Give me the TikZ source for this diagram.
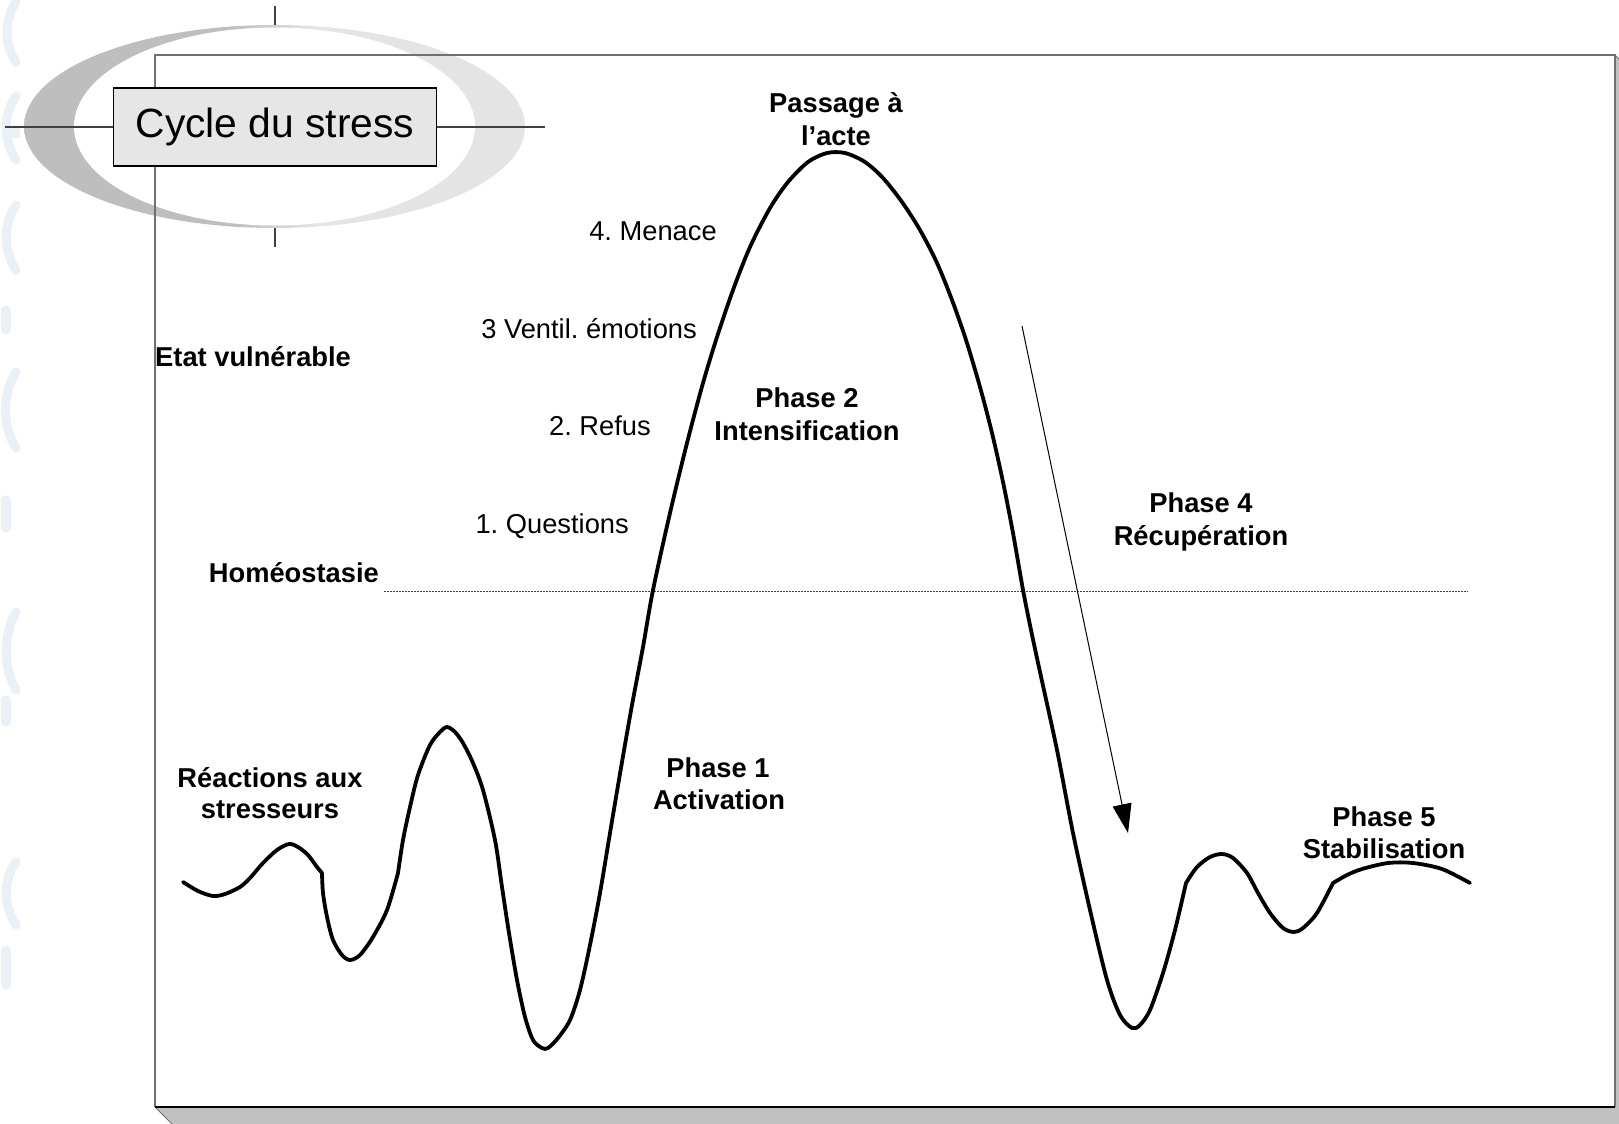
\documentclass[tikz,border=0pt]{standalone}
\usepackage{fontspec}
\setmainfont{Liberation Sans}
\usetikzlibrary{arrows.meta}
\frenchspacing

\definecolor{shadowgray}{HTML}{C0C0C0}
\definecolor{ringdark}{HTML}{BEBEBE}
\definecolor{ringlight}{HTML}{E4E4E4}
\definecolor{titlefill}{HTML}{E6E6E6}
\definecolor{framegray}{HTML}{707070}
\definecolor{crossgray}{HTML}{404040}
\definecolor{paleblue}{HTML}{EAF1F6}

% crescent ring: darker on the left half, lighter on the right half
\pgfdeclarehorizontalshading{ringshade}{100bp}{color(0bp)=(ringdark); color(46bp)=(ringdark); color(54bp)=(ringlight); color(100bp)=(ringlight)}

\begin{document}
\begin{tikzpicture}[x=1bp, y=-1bp,
  lab/.style={font=\fontsize{27.3bp}{33bp}\selectfont, inner sep=0pt, anchor=base},
  boldlab/.style={lab, font=\fontsize{27.3bp}{33bp}\selectfont\bfseries},
  curve/.style={line width=3.8bp, line join=round, line cap=round},
  cross/.style={crossgray, line width=1.4bp},
  faint/.style={paleblue, line width=9bp, line cap=round}]

\useasboundingbox (0,0) rectangle (1619,1123);
\fill[white] (0,0) rectangle (1619,1123);

% faint background marks along the left edge
\draw[faint] (16,2) .. controls (4,20) and (4,45) .. (16,62);
\draw[faint] (16,96) .. controls (3,115) and (3,140) .. (16,160);
\fill[paleblue] (8,128) rectangle (20,138);
\draw[faint] (16,205) .. controls (3,225) and (3,250) .. (16,270);
\draw[faint] (6,310) -- (6,330);
\draw[faint] (16,372) .. controls (2,395) and (2,425) .. (16,448);
\draw[faint] (6,500) -- (6,528);
\draw[faint] (16,612) .. controls (3,635) and (3,668) .. (16,690);
\draw[faint] (6,700) -- (6,722);
\draw[faint] (16,862) .. controls (3,880) and (3,905) .. (16,925);
\draw[faint] (6,950) -- (6,985);

% raised frame: shadow on the right and at the bottom
\fill[shadowgray] (155,1107) -- (172,1124) -- (1636,1124) -- (1636,72) -- (1615,55) -- (1615,1107) -- cycle;
\draw[framegray, line width=1bp] (155,1107) -- (172,1124);
\draw[framegray, line width=1bp] (1615,55) -- (1632,72);

% title emblem: vertical tick marks, ring
\draw[cross] (275,6) -- (275,247);
\shade[shading=ringshade] (274.5,126.5) ellipse [x radius=250.5, y radius=101.5];
\fill[white] (274.5,126.5) ellipse [x radius=200.5, y radius=99];

% frame outline
\draw[framegray, line width=1.5bp] (155,1107) -- (155,55) -- (1615,55) -- (1615,1107);
\draw[black, line width=1.5bp] (155,1107) -- (1615,1107);

% horizontal tick line and title box
\draw[cross] (5,127) -- (545,127);
\node[draw=black, line width=1.2bp, fill=titlefill, minimum width=323bp, minimum height=78bp,
      inner sep=0pt, font=\fontsize{40.8bp}{48bp}\selectfont] (title) at (275,127) {Cycle du stress};

% homeostasis level
\coordinate (homL) at (384,591);
\coordinate (homR) at (1468,591);
\draw[crossgray, line width=0.8bp, dash pattern=on 1.5bp off 1.5bp] (homL) -- (homR);

% stress curve
\draw[curve]
  plot[smooth, tension=0.5] coordinates {(183,882) (198,891) (213,896) (225,894) (240,887) (250,878) (263,863) (277,850) (289,844) (298,847) (308,855) (317,867) (322,873)}
  -- plot[smooth, tension=0.5] coordinates {(322,873) (323,893) (327,917) (333,940) (342,955) (350,960) (360,955) (373,937) (387,910) (398,873)}
  -- plot[smooth, tension=0.5] coordinates {(398,873) (403,840) (410,807) (418,775) (430,745) (440,732) (447,727) (455,732) (463,743) (473,763) (483,790) (495,840) (502,887) (509,933) (517,980) (525,1017) (533,1040) (542,1048) (548,1048) (558,1038) (570,1020) (580,990) (590,945) (600,893) (611,827) (622,762) (632,705) (643,647) (653,590) (670,513) (687,443) (703,383) (717,337) (733,290) (750,247) (770,208) (788,182) (808,162) (827,153) (845,153) (865,162) (883,178) (902,202) (920,230) (937,263) (952,300) (966,340) (980,387) (992,433) (1003,482) (1013,533) (1023,590) (1031,630) (1040,672) (1057,750) (1073,833) (1090,910) (1107,980) (1120,1015) (1132,1028) (1140,1025) (1150,1010) (1163,973) (1175,930) (1186,883)}
  -- plot[smooth, tension=0.5] coordinates {(1186,883) (1197,867) (1210,857) (1222,854) (1233,858) (1247,873) (1258,893) (1270,913) (1283,928) (1294,932) (1303,928) (1317,913) (1333,883)}
  -- plot[smooth, tension=0.5] coordinates {(1333,883) (1347,875) (1362,869) (1388,863) (1413,863) (1442,869) (1470,883)};

% recovery arrow
\coordinate (recA) at (1022,326);
\coordinate (recB) at (1128,833);
\draw[line width=1bp, -{Triangle[length=29bp, width=19bp]}] (recA) -- (recB);

% labels
\node[boldlab] (pa1) at (836,112) {Passage à};
\node[boldlab] (pa2) at (836,145) {l’acte};
\node[lab] (s4) at (653,240) {4. Menace};
\node[lab, anchor=base east] (s3) at (697,338) {3 Ventil. émotions};
\node[lab, anchor=base east] (s2) at (651,435) {2. Refus};
\node[lab, anchor=base east] (s1) at (629,533) {1. Questions};
\node[boldlab, anchor=base west] (vuln) at (155,366) {Etat vulnérable};
\node[boldlab, anchor=base east] (homeo) at (379,582) {Homéostasie};
\node[boldlab] (p2a) at (807,407) {Phase 2};
\node[boldlab] (p2b) at (807,440) {Intensification};
\node[boldlab] (p4a) at (1201,512) {Phase 4};
\node[boldlab] (p4b) at (1201,545) {Récupération};
\node[boldlab] (p1a) at (718,777) {Phase 1};
\node[boldlab] (p1b) at (719,809) {Activation};
\node[boldlab] (rea) at (270,787) {Réactions aux};
\node[boldlab] (reb) at (270,818) {stresseurs};
\node[boldlab] (p5a) at (1384,826) {Phase 5};
\node[boldlab] (p5b) at (1384,858) {Stabilisation};
\end{tikzpicture}
\end{document}
